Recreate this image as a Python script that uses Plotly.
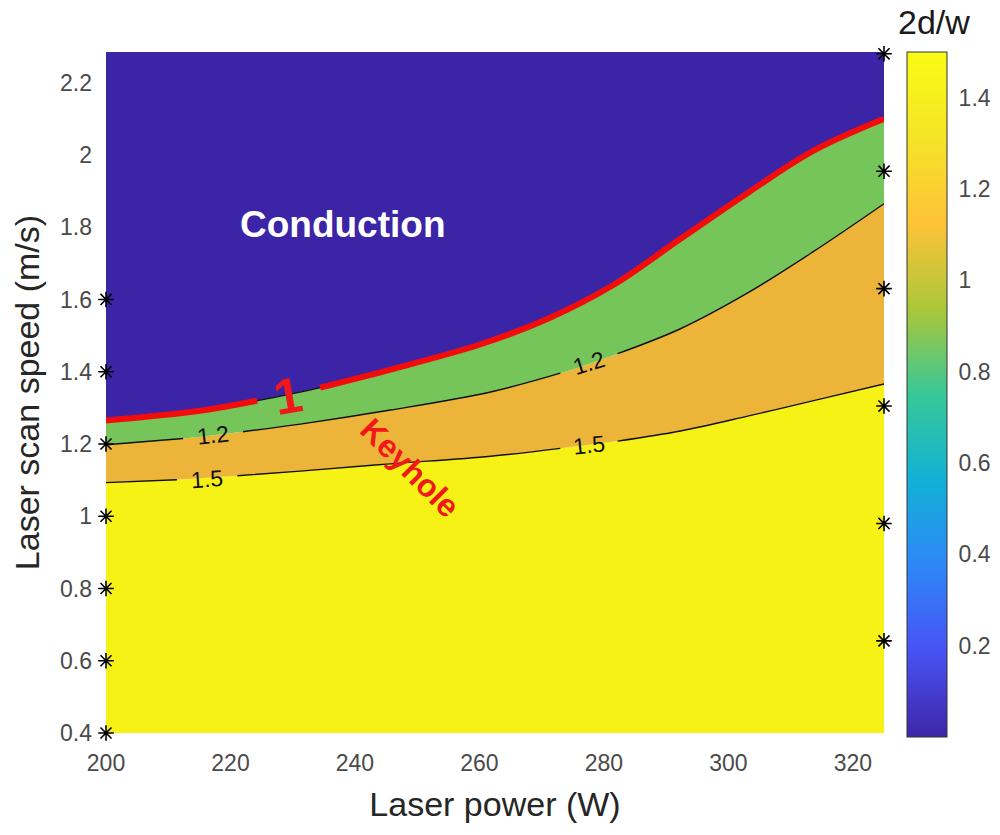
import plotly.graph_objects as go

# ---------------- data ----------------
# contour level 1.5 (boundary between orange and yellow)
lvl15_x = [200, 211.4, 221.1, 231.2, 245.7, 261.8, 273.0, 282.2, 292.3, 303.1, 313.7, 325]
lvl15_y = [1.093, 1.101, 1.112, 1.125, 1.145, 1.166, 1.188, 1.208, 1.236, 1.277, 1.320, 1.366]
# contour level 1.2 (boundary between green and orange)
lvl12_x = [200, 212.4, 222.0, 231.2, 245.7, 261.8, 273.0, 282.2, 292.3, 303.1, 313.7, 325]
lvl12_y = [1.198, 1.215, 1.234, 1.255, 1.294, 1.344, 1.396, 1.450, 1.519, 1.618, 1.733, 1.865]
# contour level 1 (conduction / keyhole boundary)
lvl1_x = [200, 215.1, 224.3, 234.4, 245.7, 260.2, 270.9, 281.5, 292.3, 303.1, 313.7, 325]
lvl1_y = [1.265, 1.292, 1.320, 1.356, 1.406, 1.476, 1.546, 1.640, 1.768, 1.895, 2.012, 2.100]

# indices after which the contour line is broken for its label
lvl15_gaps = [1, 6]
lvl12_gaps = [1, 6]
lvl1_red_gaps = [2]

# sample points (stars)
left_pts_x = [200] * 7
left_pts_y = [0.4, 0.6, 0.8, 1.0, 1.2, 1.4, 1.6]
right_pts_x = [325] * 6
right_pts_y = [0.655, 0.98, 1.305, 1.63, 1.955, 2.28]

x_range = [200, 325]
y_range = [0.4, 2.285]
x_ticks = [200, 220, 240, 260, 280, 300, 320]
y_ticks = [0.4, 0.6, 0.8, 1.0, 1.2, 1.4, 1.6, 1.8, 2.0, 2.2]
y_ticktext = ["0.4", "0.6", "0.8", "1", "1.2", "1.4", "1.6", "1.8", "2", "2.2"]
cb_ticks = [0.2, 0.4, 0.6, 0.8, 1.0, 1.2, 1.4]
cb_ticktext = ["0.2", "0.4", "0.6", "0.8", "1", "1.2", "1.4"]
cb_range = [0.0, 1.5]

# region fill colours
c_blue = "#3b24a6"
c_green = "#76c55b"
c_orange = "#edb43a"
c_yellow = "#f7f215"

parula = [
    [0.0, "rgb(62,38,168)"],
    [0.125, "rgb(72,82,244)"],
    [0.25, "rgb(46,135,247)"],
    [0.375, "rgb(18,177,214)"],
    [0.5, "rgb(55,200,151)"],
    [0.625, "rgb(171,199,57)"],
    [0.75, "rgb(254,195,56)"],
    [0.875, "rgb(245,228,39)"],
    [1.0, "rgb(249,251,21)"],
]


def split(xs, ys, gaps):
    ox, oy = [], []
    for i, (a, b) in enumerate(zip(xs, ys)):
        ox.append(a)
        oy.append(b)
        if i in gaps:
            ox.append(None)
            oy.append(None)
    return ox, oy


FONT = "Liberation Sans, Arial, Helvetica, sans-serif"
fig = go.Figure()

# ---- filled regions (stacked with tonexty) ----
fig.add_trace(go.Scatter(x=x_range, y=[y_range[0]] * 2, mode="lines",
                         line=dict(width=0), hoverinfo="skip", showlegend=False))
fig.add_trace(go.Scatter(x=lvl15_x, y=lvl15_y, mode="lines", fill="tonexty",
                         fillcolor=c_yellow, line=dict(width=0, shape="spline"),
                         hoverinfo="skip", showlegend=False))
fig.add_trace(go.Scatter(x=lvl12_x, y=lvl12_y, mode="lines", fill="tonexty",
                         fillcolor=c_orange, line=dict(width=0, shape="spline"),
                         hoverinfo="skip", showlegend=False))
fig.add_trace(go.Scatter(x=lvl1_x, y=lvl1_y, mode="lines", fill="tonexty",
                         fillcolor=c_green, line=dict(width=0, shape="spline"),
                         hoverinfo="skip", showlegend=False))
fig.add_trace(go.Scatter(x=x_range, y=[y_range[1]] * 2, mode="lines", fill="tonexty",
                         fillcolor=c_blue, line=dict(width=0),
                         hoverinfo="skip", showlegend=False))

# ---- contour lines ----
sx, sy = split(lvl15_x, lvl15_y, lvl15_gaps)
fig.add_trace(go.Scatter(x=sx, y=sy, mode="lines", connectgaps=False,
                         line=dict(color="#111111", width=1.4, shape="spline"),
                         hoverinfo="skip", showlegend=False))
sx, sy = split(lvl12_x, lvl12_y, lvl12_gaps)
fig.add_trace(go.Scatter(x=sx, y=sy, mode="lines", connectgaps=False,
                         line=dict(color="#111111", width=1.4, shape="spline"),
                         hoverinfo="skip", showlegend=False))
fig.add_trace(go.Scatter(x=lvl1_x, y=lvl1_y, mode="lines",
                         line=dict(color="#111111", width=1.4, shape="spline"),
                         hoverinfo="skip", showlegend=False))
sx, sy = split(lvl1_x, lvl1_y, lvl1_red_gaps)
fig.add_trace(go.Scatter(x=sx, y=sy, mode="lines", connectgaps=False,
                         line=dict(color="#f20c0c", width=6, shape="spline"),
                         hoverinfo="skip", showlegend=False))

# ---- sample points ----
fig.add_trace(go.Scatter(x=left_pts_x + right_pts_x, y=left_pts_y + right_pts_y,
                         mode="markers", cliponaxis=False,
                         marker=dict(symbol="asterisk-open", size=13, color="black",
                                     line=dict(color="black", width=1.6)),
                         hoverinfo="skip", showlegend=False))

# ---- colorbar carrier ----
fig.add_trace(go.Scatter(
    x=[x_range[0], x_range[0]], y=[y_range[0], y_range[0]], mode="markers",
    marker=dict(size=0.01, opacity=0, color=cb_range, colorscale=parula,
                cmin=cb_range[0], cmax=cb_range[1], showscale=True,
                colorbar=dict(
                    x=1.0296, xanchor="left", xref="paper", xpad=0,
                    y=1.0, yanchor="top", yref="paper", ypad=0,
                    len=685, lenmode="pixels", thickness=40, thicknessmode="pixels",
                    outlinewidth=1, outlinecolor="#333333",
                    tickvals=cb_ticks, ticktext=cb_ticktext,
                    ticks="outside", ticklen=7, tickcolor="rgba(0,0,0,0)", tickwidth=1,
                    tickfont=dict(family=FONT, size=23, color="#4a4a4a"),
                )),
    hoverinfo="skip", showlegend=False))

# ---- text annotations ----
ann = [
    dict(x=238.1, y=1.807, text="<b>Conduction</b>", font=dict(size=37, color="white"), textangle=0),
    dict(x=248.9, y=1.134, text="<b>Keyhole</b>", font=dict(size=32, color="#f01818"), textangle=45),
    dict(x=229.3, y=1.333, text="<b>1</b>", font=dict(size=50, color="#f01818"), textangle=-10),
    dict(x=217.2, y=1.224, text="1.2", font=dict(size=23, color="#111111"), textangle=-6),
    dict(x=216.3, y=1.104, text="1.5", font=dict(size=23, color="#111111"), textangle=-4),
    dict(x=277.6, y=1.423, text="1.2", font=dict(size=23, color="#111111"), textangle=-17),
    dict(x=277.6, y=1.197, text="1.5", font=dict(size=23, color="#111111"), textangle=-6),
]
for a in ann:
    a["font"]["family"] = FONT
    fig.add_annotation(x=a["x"], y=a["y"], xref="x", yref="y", text=a["text"],
                       showarrow=False, font=a["font"], textangle=a["textangle"],
                       xanchor="center", yanchor="middle")

fig.add_annotation(x=1.0643, y=1.044, xref="paper", yref="paper", text="2d/w",
                   xanchor="center", yanchor="middle",
                   showarrow=False, font=dict(family=FONT, size=34, color="#1a1a1a"))

fig.update_layout(
    width=1000, height=835,
    margin=dict(l=106, r=116, t=52, b=102, autoexpand=False),
    paper_bgcolor="white", plot_bgcolor="white",
    font=dict(family=FONT),
    xaxis=dict(range=x_range, tickvals=x_ticks, showgrid=False, zeroline=False,
               showline=False, ticks="", ticklabelstandoff=14,
               tickfont=dict(family=FONT, size=23, color="#4a4a4a"),
               title=dict(text="Laser power (W)", standoff=17,
                          font=dict(family=FONT, size=34, color="#262626")),
               automargin=False),
    yaxis=dict(range=y_range, tickvals=y_ticks, ticktext=y_ticktext, showgrid=False,
               zeroline=False, showline=False, ticks="", ticklabelstandoff=13,
               tickfont=dict(family=FONT, size=23, color="#4a4a4a"),
               title=dict(text="Laser scan speed (m/s)", standoff=10,
                          font=dict(family=FONT, size=34, color="#262626")),
               automargin=False),
)

fig.write_html("out.html", config={"displayModeBar": False},
               post_script="document.body.style.margin='0';")
